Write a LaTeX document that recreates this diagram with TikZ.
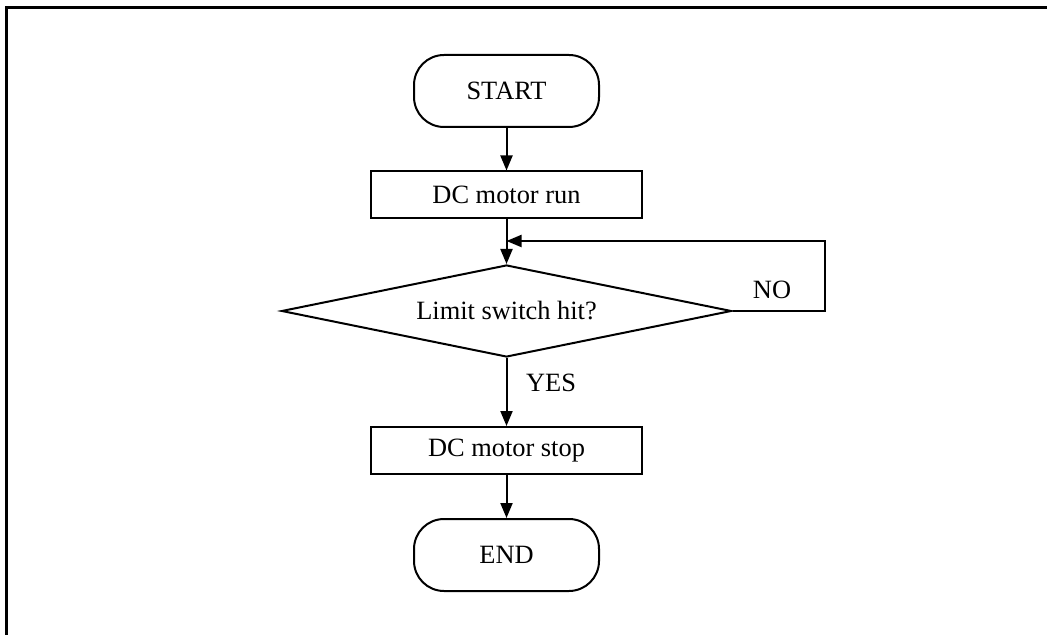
\documentclass[tikz,border=0pt]{standalone}
\usepackage{fontspec}
\setmainfont{Liberation Serif}
\usetikzlibrary{arrows.meta,shapes.geometric}
\begin{document}
\begin{tikzpicture}[x=0.5pt,y=-0.5pt,
  every node/.style={font=\fontsize{13.2}{15.5}\selectfont, inner sep=0pt},
  line/.style={line width=1pt},
  flow/.style={line, -{Triangle[length=7.5pt,width=6pt]}},
  terminal/.style={draw, line width=1pt, rounded corners=15pt,
    minimum width=92.5pt, minimum height=36pt},
  process/.style={draw, line width=1pt, minimum width=135.5pt, minimum height=23.5pt},
  decision/.style={draw, line width=1pt, diamond, aspect=4.9,
    minimum width=225pt, minimum height=46pt}]
  \useasboundingbox (0,0) rectangle (1047,635);
  % page frame: top and left rules only
  \draw[line width=1.5pt] (6,635) -- (6,8) -- (1047,8);

  \node[terminal] (start) at (506.5,91) {START};
  \node[process] (run) at (506.5,195) {DC motor run};
  \node[decision] (hit) at (506.5,311) {Limit switch hit?};
  \node[process] (stop) at (506.5,450.5) {DC motor stop};
  \node[terminal] (end) at (506.5,555) {END};

  \coordinate (loopR) at (825,241);
  \coordinate (join) at (506.5,241);

  \draw[flow] (start.south) -- (run.north);
  \draw[flow] (run.south) -- (hit.north);
  \draw[flow] (hit.east) -- (hit.east -| loopR) -- (loopR) -- (join);
  \draw[flow] (hit.south) -- (stop.north);
  \draw[flow] (stop.south) -- (end.north);

  \node (no) at (772,290) {NO};
  \node (yes) at (551,383) {YES};
\end{tikzpicture}
\end{document}
